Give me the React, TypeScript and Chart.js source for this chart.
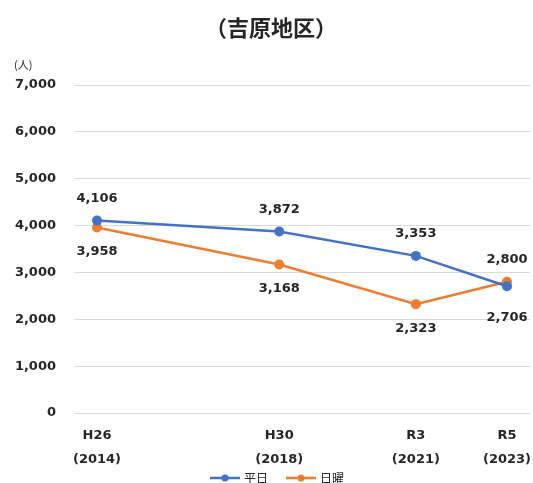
import React, { useEffect, useRef } from "react";
import { Chart, registerables } from "chart.js";

Chart.register(...registerables);

// Survey years and their Japanese era labels
const years = [2014, 2018, 2021, 2023];
const eraLabels = ["H26", "H30", "R3", "R5"];

// Visitors (persons) per survey
const weekdayValues = [4106, 3872, 3353, 2706];
const sundayValues = [3958, 3168, 2323, 2800];

const seriesNames = ["平日", "日曜"];
const yTicks = [0, 1000, 2000, 3000, 4000, 5000, 6000, 7000];

const titleText = "（吉原地区）";
const unitText = "(人)";

const BLUE = "#4472C4";
const ORANGE = "#ED7D31";
const TEXT = "#262626";
const NUM_FONT = "'DejaVu Sans', Verdana, sans-serif";
const CJK_FONT = "'Noto Sans CJK JP', 'Noto Sans', sans-serif";

// Which side of each point its value label sits on
const weekdayLabelSide = ["above", "above", "above", "below"];
const sundayLabelSide = ["below", "below", "below", "above"];

const fmt = (v: number) => v.toLocaleString("en-US");

const decorPlugin = {
  id: "decor",
  afterDraw(chart: any) {
    const ctx = chart.ctx as CanvasRenderingContext2D;
    ctx.save();

    // Title
    ctx.fillStyle = TEXT;
    ctx.font = `bold 22px ${CJK_FONT}`;
    ctx.textAlign = "center";
    ctx.textBaseline = "middle";
    ctx.fillText(titleText, 271, 28);

    // Unit label
    ctx.font = `11px ${CJK_FONT}`;
    ctx.textAlign = "left";
    ctx.fillText(unitText, 14, 65);

    // Value labels
    ctx.font = `bold 13px ${NUM_FONT}`;
    ctx.textAlign = "center";
    const sides = [weekdayLabelSide, sundayLabelSide];
    chart.data.datasets.forEach((ds: any, di: number) => {
      const meta = chart.getDatasetMeta(di);
      meta.data.forEach((pt: any, i: number) => {
        const text = fmt(ds.data[i].y);
        const w = ctx.measureText(text).width;
        let x = pt.x;
        x = Math.min(x, chart.width - 1 - w / 2);
        const below = sides[di][i] === "below";
        const dy = below ? (di === 0 ? 31 : 24) : -22;
        ctx.fillText(text, x, pt.y + dy);
      });
    });

    // Legend
    const ly = 478;
    const items = [
      { name: seriesNames[0], color: BLUE, x: 210 },
      { name: seriesNames[1], color: ORANGE, x: 286 },
    ];
    items.forEach((it) => {
      ctx.strokeStyle = it.color;
      ctx.lineWidth = 2.5;
      ctx.beginPath();
      ctx.moveTo(it.x, ly);
      ctx.lineTo(it.x + 30, ly);
      ctx.stroke();
      ctx.fillStyle = it.color;
      ctx.beginPath();
      ctx.arc(it.x + 15, ly, 3.5, 0, Math.PI * 2);
      ctx.fill();
      ctx.fillStyle = TEXT;
      ctx.font = `12px ${CJK_FONT}`;
      ctx.textAlign = "left";
      ctx.fillText(it.name, it.x + 34, ly);
    });
    ctx.restore();
  },
};

export default function App() {
  const canvasRef = useRef<HTMLCanvasElement | null>(null);

  useEffect(() => {
    if (!canvasRef.current) return;
    const toPoints = (vals: number[]) => vals.map((v, i) => ({ x: years[i], y: v }));
    const chart = new Chart(canvasRef.current, {
      type: "line",
      data: {
        datasets: [
          {
            label: seriesNames[0],
            data: toPoints(weekdayValues),
            borderColor: BLUE,
            backgroundColor: BLUE,
            borderWidth: 2.5,
            pointRadius: 5,
            pointHoverRadius: 5,
            pointBorderWidth: 0,
            tension: 0,
          },
          {
            label: seriesNames[1],
            data: toPoints(sundayValues),
            borderColor: ORANGE,
            backgroundColor: ORANGE,
            borderWidth: 2.5,
            pointRadius: 5,
            pointHoverRadius: 5,
            pointBorderWidth: 0,
            tension: 0,
          },
        ],
      },
      options: {
        responsive: false,
        animation: false,
        devicePixelRatio: 1,
        layout: { autoPadding: false, padding: { top: 85, left: 0, right: 3, bottom: 0 } },
        plugins: {
          legend: { display: false },
          title: { display: false },
          tooltip: { enabled: false },
        },
        scales: {
          x: {
            type: "linear",
            min: 2013.517,
            max: 2023.505,
            grid: { display: false, drawTicks: false },
            border: { display: false },
            afterBuildTicks: (scale: any) => {
              scale.ticks = years.map((v) => ({ value: v }));
            },
            afterFit: (scale: any) => {
              scale.height = 70;
              scale.paddingLeft = 0;
              scale.paddingRight = 0;
            },
            ticks: {
              autoSkip: false,
              maxRotation: 0,
              padding: 10,
              color: TEXT,
              font: { family: NUM_FONT, size: 13, weight: "bold", lineHeight: 1.9 },
              callback: (value: any) => {
                const i = years.indexOf(Number(value));
                return i >= 0 ? [eraLabels[i], `(${years[i]})`] : "";
              },
            },
          },
          y: {
            min: 0,
            max: 7000,
            grid: { color: "#d9d9d9", lineWidth: 1, drawTicks: false },
            border: { display: false },
            afterBuildTicks: (scale: any) => {
              scale.ticks = yTicks.map((v) => ({ value: v }));
            },
            afterFit: (scale: any) => {
              scale.width = 75;
            },
            ticks: {
              padding: 19,
              color: TEXT,
              font: { family: NUM_FONT, size: 13, weight: "bold" },
              callback: (value: any) => fmt(Number(value)),
            },
          },
        },
      } as any,
      plugins: [decorPlugin],
    });
    return () => chart.destroy();
  }, []);

  return (
    <div style={{ position: "absolute", left: 0, top: 0, width: 533, height: 483, background: "#fff" }}>
      <canvas ref={canvasRef} width={533} height={483} style={{ width: 533, height: 483, display: "block" }} />
    </div>
  );
}
